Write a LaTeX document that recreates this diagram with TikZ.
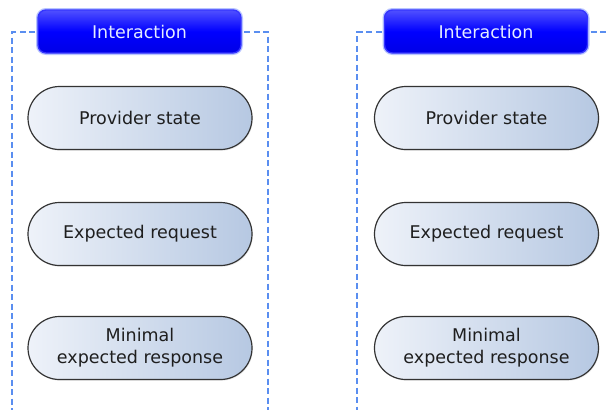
\documentclass[tikz,border=0pt]{standalone}
\usepackage{fontspec}
\setmainfont{DejaVu Sans}
\usetikzlibrary{shadows}

\definecolor{frameblue}{HTML}{5A8EF0}
\definecolor{hdrtop}{HTML}{5050FF}
\definecolor{hdrmid}{HTML}{0000FF}
\definecolor{hdrbot}{HTML}{0000E6}
\definecolor{hdredge}{HTML}{3535FF}
\definecolor{hdrglow}{HTML}{B8C4FF}
\definecolor{hdrtext}{HTML}{E4ECFF}
\definecolor{pillleft}{HTML}{EEF2F9}
\definecolor{pillright}{HTML}{B6C8E2}
\definecolor{pilledge}{HTML}{333333}
\definecolor{pilltext}{HTML}{1E1E1E}

\tikzset{
  header/.style={
    draw=hdredge, line width=1.4pt, rounded corners=8pt,
    top color=hdrtop, bottom color=hdrbot, middle color=hdrmid,
    minimum width=203pt, minimum height=43pt, inner sep=0pt,
    text=hdrtext, font=\fontsize{17.5}{21}\selectfont,
    preaction={draw=hdrglow, line width=4pt, rounded corners=8pt}
  },
  pill/.style={
    draw=pilledge, line width=1.2pt, rounded corners=31.5pt,
    left color=pillleft, right color=pillright,
    minimum width=224pt, minimum height=63pt, inner sep=0pt,
    text=pilltext, align=center, font=\fontsize{17.5}{22}\selectfont,
    drop shadow={shadow xshift=0.8pt, shadow yshift=-1.2pt, opacity=0.18}
  },
  frame/.style={draw=frameblue, line width=1.3pt, dash pattern=on 6pt off 3.5pt}
}

\begin{document}
\begin{tikzpicture}[x=1pt,y=-1pt]
  \useasboundingbox[fill=white] (0,0) rectangle (607,410);

  % left interaction group
  \coordinate (lBL) at (12,410);
  \coordinate (lBR) at (268,410);
  \draw[frame] (139.5,32) -| (lBL);
  \draw[frame] (139.5,32) -| (lBR);
  \node[header] (hdrL) at (139.5,31.5) {Interaction};
  \node[pill] (stateL) at (140,118) {Provider state};
  \node[pill] (reqL)   at (140,234) {Expected request};
  \node[pill] (respL)  at (140,348) {Minimal\\expected response};

  % right interaction group
  \coordinate (rBL) at (357,410);
  \coordinate (rTR) at (607,32);
  \draw[frame] (486,32) -| (rBL);
  \draw[frame] (486,32) -- (rTR);
  \node[header] (hdrR) at (486,31.5) {Interaction};
  \node[pill] (stateR) at (486.5,118) {Provider state};
  \node[pill] (reqR)   at (486.5,234) {Expected request};
  \node[pill] (respR)  at (486.5,348) {Minimal\\expected response};
\end{tikzpicture}
\end{document}
